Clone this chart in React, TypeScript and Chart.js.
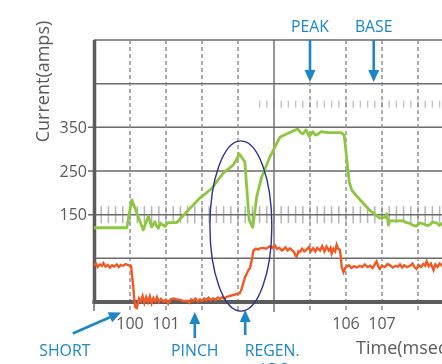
import React, { useEffect, useRef } from "react";
import { Chart, registerables } from "chart.js";

Chart.register(...registerables);

// ---- axis ranges & labels ----
const X_MIN = 99;
const X_MAX = 109.5;
const Y_MIN = -50;
const Y_MAX = 550;
const yGridValues = [550, 450, 350, 250, 150, 50];
const yTickLabels = [350, 250, 150];
const xGridValues = [100, 101, 102, 103, 104, 105, 106, 107, 108, 109];
const xSolidValue = 104;
const xTickLabels = [100, 101, 106, 107];
const yTitle = "Current(amps)";
const xTitle = "Time(msec)";

// ---- green trace (voltage-like trace, plotted in amps units) ----
const greenTime = [
  99.0, 99.91, 100.05, 100.19, 100.37, 100.51, 100.6, 100.69, 100.74, 100.79, 100.84, 100.88,
  100.93, 100.97, 101.06, 101.3, 101.58, 101.94, 102.27, 102.59, 102.87, 103.04, 103.19, 103.31,
  103.41, 103.52, 103.66, 103.89, 104.17, 104.38, 104.66, 104.74, 104.8, 104.89, 104.98, 105.08,
  105.15, 105.21, 105.31, 105.49, 105.86, 105.95, 106.09, 106.16, 106.39, 106.67, 106.94, 107.08,
  107.13, 107.18, 107.22, 107.4, 107.59, 107.7, 107.78, 107.85, 107.96, 108.05, 108.15, 108.25,
  108.33, 108.4, 108.52, 108.6, 108.66, 108.75, 108.85, 109.0, 109.15, 109.3, 109.5,
];
const greenAmps = [
  120, 120, 184, 153, 115, 147, 122, 134, 124, 119, 131, 128,
  126, 123, 132, 132, 157, 188, 210, 245, 264, 289, 271, 138,
  121, 191, 237, 283, 328, 336, 346, 338, 335, 344, 329, 340,
  332, 334, 340, 338, 338, 332, 225, 206, 184, 159, 142, 144,
  152, 126, 136, 136, 136, 131, 130, 126, 124, 131, 129, 125,
  127, 133, 131, 125, 130, 127, 133, 128, 132, 127, 130,
];

// ---- orange trace (current) ----
const orangeTime = [
  99.0, 99.06, 99.1, 99.16, 99.22, 99.26, 99.32, 99.38, 99.44, 99.5, 99.56, 99.63,
  99.69, 99.75, 99.81, 99.88, 99.96, 100.03, 100.06, 100.09, 100.12, 100.15, 100.19, 100.25,
  100.3, 100.35, 100.4, 100.45, 100.5, 100.55, 100.6, 100.65, 100.7, 100.75, 100.8, 100.86,
  100.93, 101.0, 101.06, 101.12, 101.2, 101.3, 101.4, 101.5, 101.58, 101.65, 101.7, 101.76,
  101.82, 101.88, 101.94, 102.0, 102.06, 102.12, 102.18, 102.24, 102.31, 102.38, 102.44, 102.5,
  102.56, 102.62, 102.69, 102.78, 102.87, 102.96, 103.05, 103.1, 103.15, 103.2, 103.24, 103.28,
  103.33, 103.38, 103.43, 103.5, 103.56, 103.61, 103.7, 103.78, 103.85, 103.89, 103.95, 104.02,
  104.08, 104.15, 104.22, 104.26, 104.32, 104.38, 104.44, 104.5, 104.56, 104.6, 104.63, 104.68,
  104.72, 104.78, 104.84, 104.91, 104.97, 105.02, 105.09, 105.15, 105.2, 105.28, 105.34, 105.4,
  105.46, 105.52, 105.57, 105.6, 105.65, 105.7, 105.74, 105.78, 105.83, 105.86, 105.88, 105.93,
  105.98, 106.02, 106.08, 106.15, 106.22, 106.3, 106.38, 106.45, 106.52, 106.6, 106.67, 106.74,
  106.8, 106.85, 106.9, 106.94, 107.0, 107.08, 107.15, 107.22, 107.3, 107.38, 107.45, 107.5,
  107.56, 107.62, 107.7, 107.78, 107.85, 107.9, 107.96, 108.02, 108.08, 108.15, 108.2, 108.24,
  108.3, 108.36, 108.43, 108.48, 108.54, 108.6, 108.66, 108.72, 108.8, 108.9, 109.0, 109.1,
  109.2, 109.35, 109.5,
];
const orangeAmps = [
  34, 38, 30, 36, 33, 39, 31, 35, 29, 34, 31, 36,
  30, 35, 33, 37, 34, 33, 10, -15, -45, -62, -64, -42,
  -48, -36, -52, -39, -50, -37, -53, -41, -48, -39, -50, -43,
  -49, -45, -54, -44, -42, -44, -45, -48, -47, -52, -44, -47,
  -42, -49, -44, -48, -42, -46, -40, -46, -42, -45, -40, -43,
  -39, -42, -38, -36, -34, -32, -30, -20, -6, 8, 14, 22,
  27, 45, 68, 72, 70, 73, 74, 72, 76, 78, 74, 80,
  72, 74, 68, 70, 75, 68, 73, 69, 64, 56, 54, 66,
  64, 72, 66, 70, 76, 66, 73, 66, 74, 68, 78, 66,
  77, 68, 74, 61, 72, 66, 81, 72, 70, 50, 30, 18,
  28, 31, 34, 28, 32, 29, 33, 30, 36, 30, 33, 28,
  36, 43, 31, 26, 33, 30, 37, 34, 29, 33, 31, 36,
  29, 34, 30, 33, 38, 30, 26, 35, 30, 37, 33, 43,
  32, 38, 23, 36, 30, 38, 34, 27, 35, 30, 37, 29,
  34, 31, 33,
];

// ---- oscilloscope tick bands ----
const lowerBandAmps = 150;
const lowerBandStart = 99;
const upperBandAmps = 403;
const upperBandStart = 103.6;
const bandStep = 0.2;

// ---- annotations ----
const topLabels = [
  { text: "PEAK", x: 105.0 },
  { text: "BASE", x: 106.77 },
];
const bottomLabels = [
  { text: "SHORT", x: 98.19, arrowTipX: 99.75, arrowTailX: 98.41 },
  { text: "PINCH", x: 101.8, arrowTipX: 101.8, arrowTailX: 101.8 },
  { text: "REGEN.", x: 103.95, arrowTipX: 103.2, arrowTailX: 103.2 },
];
const ellipseCenter = { x: 103.08, y: 124 };
const ellipseRadius = { x: 0.86, y: 195 };

const FONT = "'Open Sans', 'Noto Sans', sans-serif";
const GRID = "#6a6a6a";
const DASH = "#8a8a8a";
const AXIS = "#5c5c5c";
const TEXT = "#5a5a5a";
const BLUE = "#1b87c9";
const NAVY = "#2d3190";
const GREEN = "#8dc63f";
const ORANGE = "#f15a24";

function arrow(ctx: CanvasRenderingContext2D, x1: number, y1: number, x2: number, y2: number) {
  const len = 12;
  const hw = 5.5;
  const ang = Math.atan2(y2 - y1, x2 - x1);
  const bx = x2 - Math.cos(ang) * len;
  const by = y2 - Math.sin(ang) * len;
  ctx.strokeStyle = BLUE;
  ctx.fillStyle = BLUE;
  ctx.lineWidth = 2.6;
  ctx.setLineDash([]);
  ctx.beginPath();
  ctx.moveTo(x1, y1);
  ctx.lineTo(bx, by);
  ctx.stroke();
  ctx.beginPath();
  ctx.moveTo(x2, y2);
  ctx.lineTo(bx + Math.sin(ang) * hw, by - Math.cos(ang) * hw);
  ctx.lineTo(bx - Math.sin(ang) * hw, by + Math.cos(ang) * hw);
  ctx.closePath();
  ctx.fill();
}

function squeezedText(ctx: CanvasRenderingContext2D, text: string, cx: number, by: number) {
  ctx.save();
  ctx.translate(cx, by);
  ctx.scale(0.93, 1);
  ctx.textAlign = "center";
  ctx.textBaseline = "alphabetic";
  ctx.fillText(text, 0, 0);
  ctx.restore();
}

const decor = {
  id: "decor",
  beforeDatasetsDraw(chart: any) {
    const { ctx, chartArea: ca, scales } = chart;
    const xs = scales.x;
    const ys = scales.y;
    const right = ca.right;
    ctx.save();

    // tick bands
    ctx.strokeStyle = "#b4b4b4";
    ctx.lineWidth = 1.5;
    const ly = ys.getPixelForValue(lowerBandAmps);
    for (let v = lowerBandStart + bandStep; v < X_MAX; v += bandStep) {
      const px = xs.getPixelForValue(v);
      ctx.beginPath();
      ctx.moveTo(px, ly - 8.5);
      ctx.lineTo(px, ly + 8.5);
      ctx.stroke();
    }
    ctx.strokeStyle = "#c8c8c8";
    const uy = ys.getPixelForValue(upperBandAmps);
    for (let v = upperBandStart; v < X_MAX; v += bandStep) {
      const px = xs.getPixelForValue(v);
      ctx.beginPath();
      ctx.moveTo(px, uy - 3.5);
      ctx.lineTo(px, uy + 3.5);
      ctx.stroke();
    }

    // horizontal grid
    ctx.strokeStyle = GRID;
    ctx.lineWidth = 1.5;
    yGridValues.forEach((v) => {
      const py = ys.getPixelForValue(v);
      const start = yTickLabels.includes(v) ? ca.left - 6 : ca.left;
      ctx.beginPath();
      ctx.moveTo(start, py);
      ctx.lineTo(right, py);
      ctx.stroke();
    });

    // vertical grid
    xGridValues.forEach((v) => {
      const px = xs.getPixelForValue(v);
      ctx.beginPath();
      if (v === xSolidValue) {
        ctx.setLineDash([]);
        ctx.strokeStyle = GRID;
      } else {
        ctx.setLineDash([4, 3]);
        ctx.strokeStyle = DASH;
      }
      ctx.lineWidth = 1.4;
      ctx.moveTo(px, ca.top);
      ctx.lineTo(px, ca.bottom + 10);
      ctx.stroke();
    });
    ctx.setLineDash([]);

    // axes
    ctx.strokeStyle = AXIS;
    ctx.lineWidth = 1.4;
    ctx.beginPath();
    ctx.moveTo(ca.left, ca.bottom);
    ctx.lineTo(ca.left, ca.bottom + 9);
    ctx.stroke();
    ctx.lineWidth = 3.5;
    ctx.beginPath();
    ctx.moveTo(ca.left + 0.5, ca.top);
    ctx.lineTo(ca.left + 0.5, ca.bottom + 2);
    ctx.stroke();
    ctx.lineWidth = 4;
    ctx.beginPath();
    ctx.moveTo(ca.left - 1.5, ca.bottom);
    ctx.lineTo(right, ca.bottom);
    ctx.stroke();

    // tick labels
    ctx.fillStyle = TEXT;
    ctx.font = `16px ${FONT}`;
    ctx.textAlign = "right";
    ctx.textBaseline = "alphabetic";
    yTickLabels.forEach((v) => {
      ctx.fillText(String(v), ca.left - 7, ys.getPixelForValue(v) + 5.8);
    });
    ctx.textAlign = "center";
    xTickLabels.forEach((v) => {
      ctx.fillText(String(v), xs.getPixelForValue(v), ca.bottom + 27);
    });

    // axis titles
    ctx.font = `18px ${FONT}`;
    ctx.save();
    ctx.translate(48.5, 81.5);
    ctx.rotate(-Math.PI / 2);
    ctx.textAlign = "center";
    ctx.fillText(yTitle, 0, 0);
    ctx.restore();
    ctx.textAlign = "left";
    ctx.fillText(xTitle, xs.getPixelForValue(106.28), ca.bottom + 51.5);

    ctx.restore();
  },
  afterDatasetsDraw(chart: any) {
    const { ctx, chartArea: ca, scales } = chart;
    const xs = scales.x;
    const ys = scales.y;
    ctx.save();

    // ellipse
    const cx = xs.getPixelForValue(ellipseCenter.x);
    const cy = ys.getPixelForValue(ellipseCenter.y);
    const rx = xs.getPixelForValue(ellipseCenter.x + ellipseRadius.x) - cx;
    const ry = cy - ys.getPixelForValue(ellipseCenter.y + ellipseRadius.y);
    ctx.strokeStyle = NAVY;
    ctx.lineWidth = 1.4;
    ctx.beginPath();
    ctx.ellipse(cx, cy, rx, ry, 0, 0, Math.PI * 2);
    ctx.stroke();

    // top labels + arrows
    ctx.font = `17px ${FONT}`;
    topLabels.forEach((l) => {
      const px = xs.getPixelForValue(l.x);
      ctx.fillStyle = BLUE;
      squeezedText(ctx, l.text, px, ca.top - 8.5);
      arrow(ctx, px, ca.top, px, ca.top + 42);
    });

    // bottom labels + arrows
    bottomLabels.forEach((l) => {
      const px = xs.getPixelForValue(l.x);
      ctx.fillStyle = BLUE;
      ctx.font = `17px ${FONT}`;
      squeezedText(ctx, l.text, px, ca.bottom + 54);
      const tip = xs.getPixelForValue(l.arrowTipX);
      const tail = xs.getPixelForValue(l.arrowTailX);
      if (l.text === "SHORT") {
        arrow(ctx, tail, ca.bottom + 31.5, tip, ca.bottom + 10.5);
      } else if (l.text === "PINCH") {
        arrow(ctx, tail, ca.bottom + 36, tip, ca.bottom + 10);
      } else {
        arrow(ctx, tail, ca.bottom + 33, tip, ca.bottom + 8);
        ctx.fillStyle = BLUE;
        squeezedText(ctx, "ARC", px + 1, ca.bottom + 73);
      }
    });

    ctx.restore();
  },
};

export default function App() {
  const ref = useRef<HTMLCanvasElement | null>(null);
  useEffect(() => {
    if (!ref.current) return;
    const chart = new Chart(ref.current, {
      type: "line",
      data: {
        datasets: [
          {
            label: "Voltage",
            data: greenTime.map((t, i) => ({ x: t, y: greenAmps[i] })),
            borderColor: GREEN,
            borderWidth: 2.8,
            pointRadius: 0,
            tension: 0,
            clip: false as any,
            borderJoinStyle: "round",
          },
          {
            label: "Current",
            data: orangeTime.map((t, i) => ({ x: t, y: orangeAmps[i] })),
            borderColor: ORANGE,
            borderWidth: 2.4,
            pointRadius: 0,
            tension: 0,
            clip: false as any,
            borderJoinStyle: "miter",
          },
        ],
      },
      options: {
        responsive: false,
        animation: false,
        devicePixelRatio: 1,
        layout: { padding: { left: 94, right: 8, top: 40, bottom: 62 } },
        plugins: { legend: { display: false }, tooltip: { enabled: false } },
        scales: {
          x: { type: "linear", min: X_MIN, max: X_MAX, display: false },
          y: { type: "linear", min: Y_MIN, max: Y_MAX, display: false },
        },
      },
      plugins: [decor],
    });
    return () => chart.destroy();
  }, []);

  return (
    <div
      style={{
        position: "fixed",
        left: 0,
        top: 0,
        width: 442,
        height: 364,
        overflow: "hidden",
        background: "#fff",
      }}
    >
      <canvas ref={ref} width={480} height={364} style={{ display: "block" }} />
    </div>
  );
}
